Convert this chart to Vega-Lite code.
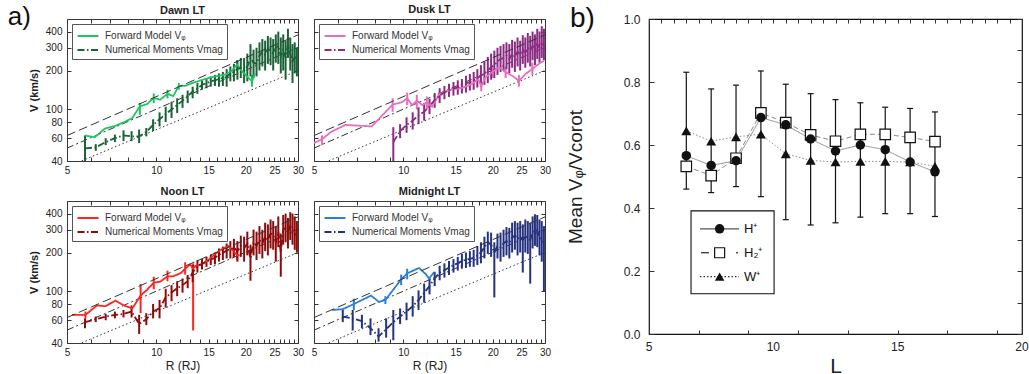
{
 "$schema": "https://vega.github.io/schema/vega-lite/v6.json",
 "padding": {"left": 7, "top": 3, "right": 0, "bottom": 0},
 "background": "white",
 "config": {
  "font": "Liberation Sans",
  "view": {"stroke": "#3a3a3a", "strokeWidth": 1},
  "axis": {"domain": false, "grid": false, "labelOverlap": false, "tickColor": "#333", "tickWidth": 1, "labelColor": "#222", "titleColor": "#222", "labelFont": "Liberation Sans", "titleFont": "Liberation Sans"},
  "legend": {"labelFont": "Liberation Sans"},
  "title": {"font": "Liberation Sans"},
  "text": {"font": "Liberation Sans"}
 },
 "datasets": {
  "ref": [
   {"k":"c10","R":5,"V":62.9},{"k":"c10","R":30,"V":377},
   {"k":"c08","R":5,"V":50.3},{"k":"c08","R":30,"V":302},
   {"k":"c06","R":5,"V":36},{"k":"c06","R":30,"V":200}
  ],
  "dawn": [
   {"s":"F","R":5.75,"V":63},{"s":"F","R":6.2,"V":61},{"s":"F","R":6.7,"V":71},{"s":"F","R":7.3,"V":75},{"s":"F","R":7.8,"V":80},{"s":"F","R":8.3,"V":86},
   {"s":"F","R":8.8,"V":106,"lo":91,"hi":112},{"s":"F","R":9.3,"V":110},{"s":"F","R":9.8,"V":123,"lo":112,"hi":133},{"s":"F","R":10.3,"V":119},
   {"s":"F","R":10.9,"V":132,"lo":122,"hi":142},{"s":"F","R":11.4,"V":127},{"s":"F","R":11.9,"V":152,"lo":142,"hi":160},{"s":"F","R":12.5,"V":152},
   {"s":"F","R":13.2,"V":160},{"s":"F","R":13.9,"V":166},{"s":"F","R":14.6,"V":172},{"s":"F","R":15.4,"V":178},{"s":"F","R":16.2,"V":182},
   {"s":"F","R":17.1,"V":186},{"s":"F","R":18.0,"V":200},{"s":"F","R":18.7,"V":222,"lo":200,"hi":240},{"s":"F","R":19.5,"V":196},{"s":"F","R":20.3,"V":178},
   {"s":"F","R":21.0,"V":165,"lo":150,"hi":185},{"s":"F","R":21.5,"V":190},
   {"s":"N","R":5.75,"V":50,"lo":38,"hi":63},{"s":"N","R":6.25,"V":51,"lo":48,"hi":54},{"s":"N","R":6.75,"V":56,"lo":53,"hi":60},{"s":"N","R":7.25,"V":60,"lo":56,"hi":64},
   {"s":"N","R":7.75,"V":63,"lo":57,"hi":69},{"s":"N","R":8.25,"V":62,"lo":57,"hi":68},{"s":"N","R":8.75,"V":62,"lo":55,"hi":70},{"s":"N","R":9.25,"V":67,"lo":62,"hi":72},
   {"s":"N","R":9.75,"V":76,"lo":68,"hi":84},{"s":"N","R":10.25,"V":84,"lo":74,"hi":95},{"s":"N","R":10.75,"V":92,"lo":80,"hi":105},{"s":"N","R":11.25,"V":100,"lo":86,"hi":115},
   {"s":"N","R":11.75,"V":108,"lo":94,"hi":122},{"s":"N","R":12.25,"V":117,"lo":103,"hi":130},{"s":"N","R":12.75,"V":126,"lo":112,"hi":140},{"s":"N","R":13.25,"V":138,"lo":122,"hi":150},
   {"s":"N","R":13.75,"V":145,"lo":132,"hi":160},{"s":"N","R":14.25,"V":155,"lo":142,"hi":168},{"s":"N","R":14.75,"V":160,"lo":146,"hi":175},{"s":"N","R":15.25,"V":165,"lo":150,"hi":180},
   {"s":"N","R":15.75,"V":168,"lo":152,"hi":185},{"s":"N","R":16.25,"V":172,"lo":150,"hi":190},{"s":"N","R":16.75,"V":175,"lo":152,"hi":195},{"s":"N","R":17.25,"V":178,"lo":150,"hi":205},
   {"s":"N","R":17.75,"V":190,"lo":165,"hi":215},{"s":"N","R":18.25,"V":195,"lo":165,"hi":225},{"s":"N","R":18.75,"V":205,"lo":170,"hi":240},{"s":"N","R":19.25,"V":210,"lo":175,"hi":250},
   {"s":"N","R":19.75,"V":200,"lo":160,"hi":250},{"s":"N","R":20.25,"V":215,"lo":165,"hi":270},{"s":"N","R":20.75,"V":250,"lo":180,"hi":320},{"s":"N","R":21.25,"V":230,"lo":175,"hi":290},
   {"s":"N","R":21.75,"V":225,"lo":180,"hi":300},{"s":"N","R":22.25,"V":260,"lo":200,"hi":330},{"s":"N","R":22.75,"V":280,"lo":215,"hi":350},{"s":"N","R":23.25,"V":265,"lo":200,"hi":340},
   {"s":"N","R":23.75,"V":295,"lo":225,"hi":370},{"s":"N","R":24.25,"V":285,"lo":220,"hi":360},{"s":"N","R":24.75,"V":270,"lo":200,"hi":350},{"s":"N","R":25.25,"V":300,"lo":230,"hi":380},
   {"s":"N","R":25.75,"V":310,"lo":225,"hi":400},{"s":"N","R":26.25,"V":260,"lo":190,"hi":360},{"s":"N","R":26.75,"V":290,"lo":200,"hi":380},{"s":"N","R":27.25,"V":250,"lo":170,"hi":340},
   {"s":"N","R":27.75,"V":320,"lo":250,"hi":420},{"s":"N","R":28.25,"V":270,"lo":200,"hi":360},{"s":"N","R":28.75,"V":230,"lo":160,"hi":320},{"s":"N","R":29.25,"V":255,"lo":190,"hi":330},
   {"s":"N","R":29.75,"V":245,"lo":180,"hi":300}
  ],
  "dusk": [
   {"s":"F","R":5.0,"V":55},{"s":"F","R":5.32,"V":59,"lo":53,"hi":63},{"s":"F","R":5.7,"V":67},{"s":"F","R":6.38,"V":76},{"s":"F","R":7.82,"V":74},
   {"s":"F","R":9.2,"V":109,"lo":96,"hi":122},{"s":"F","R":9.9,"V":114},{"s":"F","R":10.3,"V":122,"lo":108,"hi":135},{"s":"F","R":10.7,"V":108},
   {"s":"F","R":11.1,"V":117,"lo":100,"hi":130},{"s":"F","R":11.6,"V":108},{"s":"F","R":12.0,"V":114,"lo":100,"hi":126},{"s":"F","R":12.5,"V":105},
   {"s":"F","R":13.2,"V":131},{"s":"F","R":14.6,"V":143},{"s":"F","R":15.8,"V":147},{"s":"F","R":17.0,"V":157},{"s":"F","R":17.9,"V":171},
   {"s":"F","R":18.3,"V":151,"lo":138,"hi":165},{"s":"F","R":18.9,"V":177},{"s":"F","R":19.9,"V":194,"lo":175,"hi":210},{"s":"F","R":21.0,"V":212},
   {"s":"F","R":22.1,"V":194,"lo":175,"hi":215},{"s":"F","R":23.3,"V":182},{"s":"F","R":24.5,"V":166,"lo":150,"hi":185},{"s":"F","R":25.8,"V":188},
   {"s":"F","R":27.2,"V":206,"lo":185,"hi":230},{"s":"F","R":28.6,"V":225},{"s":"F","R":29.8,"V":239},
   {"s":"N","R":9.25,"V":56,"lo":38,"hi":73},{"s":"N","R":9.75,"V":68,"lo":60,"hi":77},{"s":"N","R":10.25,"V":76,"lo":66,"hi":87},{"s":"N","R":10.75,"V":82,"lo":70,"hi":95},
   {"s":"N","R":11.25,"V":90,"lo":77,"hi":104},{"s":"N","R":11.75,"V":96,"lo":82,"hi":112},{"s":"N","R":12.25,"V":106,"lo":92,"hi":121},{"s":"N","R":12.75,"V":118,"lo":103,"hi":134},
   {"s":"N","R":13.25,"V":128,"lo":112,"hi":146},{"s":"N","R":13.75,"V":136,"lo":120,"hi":152},{"s":"N","R":14.25,"V":140,"lo":125,"hi":158},{"s":"N","R":14.75,"V":145,"lo":128,"hi":163},
   {"s":"N","R":15.25,"V":148,"lo":130,"hi":168},{"s":"N","R":15.75,"V":152,"lo":133,"hi":172},{"s":"N","R":16.25,"V":158,"lo":135,"hi":182},{"s":"N","R":16.75,"V":163,"lo":140,"hi":188},
   {"s":"N","R":17.25,"V":167,"lo":142,"hi":195},{"s":"N","R":17.75,"V":175,"lo":148,"hi":205},{"s":"N","R":18.25,"V":182,"lo":150,"hi":220},{"s":"N","R":18.75,"V":190,"lo":155,"hi":235},
   {"s":"N","R":19.25,"V":200,"lo":160,"hi":255},{"s":"N","R":19.75,"V":212,"lo":170,"hi":270},{"s":"N","R":20.25,"V":220,"lo":175,"hi":285},{"s":"N","R":20.75,"V":235,"lo":185,"hi":300},
   {"s":"N","R":21.25,"V":245,"lo":195,"hi":310},{"s":"N","R":21.75,"V":250,"lo":200,"hi":320},{"s":"N","R":22.25,"V":260,"lo":205,"hi":330},{"s":"N","R":22.75,"V":245,"lo":190,"hi":320},
   {"s":"N","R":23.25,"V":270,"lo":210,"hi":345},{"s":"N","R":23.75,"V":255,"lo":195,"hi":335},{"s":"N","R":24.25,"V":280,"lo":215,"hi":360},{"s":"N","R":24.75,"V":265,"lo":200,"hi":340},
   {"s":"N","R":25.25,"V":290,"lo":225,"hi":375},{"s":"N","R":25.75,"V":275,"lo":210,"hi":360},{"s":"N","R":26.25,"V":300,"lo":230,"hi":390},{"s":"N","R":26.75,"V":285,"lo":215,"hi":370},
   {"s":"N","R":27.25,"V":310,"lo":240,"hi":400},{"s":"N","R":27.75,"V":290,"lo":220,"hi":380},{"s":"N","R":28.25,"V":320,"lo":245,"hi":420},{"s":"N","R":28.75,"V":300,"lo":230,"hi":400},
   {"s":"N","R":29.25,"V":330,"lo":250,"hi":440},{"s":"N","R":29.75,"V":310,"lo":240,"hi":420}
  ],
  "noon": [
   {"s":"F","R":5.2,"V":66},{"s":"F","R":5.77,"V":66,"lo":62,"hi":70},{"s":"F","R":6.31,"V":78},{"s":"F","R":6.74,"V":77},{"s":"F","R":7.28,"V":85},{"s":"F","R":7.77,"V":78},
   {"s":"F","R":8.3,"V":74},{"s":"F","R":8.85,"V":93,"lo":68,"hi":114},{"s":"F","R":9.3,"V":103},{"s":"F","R":9.8,"V":117,"lo":104,"hi":130},{"s":"F","R":10.3,"V":119},
   {"s":"F","R":10.9,"V":131,"lo":120,"hi":145},{"s":"F","R":11.4,"V":131},{"s":"F","R":12.1,"V":139},{"s":"F","R":12.5,"V":150,"lo":135,"hi":168},{"s":"F","R":13.0,"V":162},
   {"s":"F","R":13.3,"V":150,"lo":50,"hi":165},{"s":"F","R":13.5,"V":157},{"s":"F","R":14.2,"V":162},{"s":"F","R":15.0,"V":176},{"s":"F","R":15.8,"V":195},
   {"s":"F","R":16.6,"V":212},{"s":"F","R":17.5,"V":225},{"s":"F","R":18.2,"V":205,"lo":185,"hi":220},{"s":"F","R":18.7,"V":190,"lo":175,"hi":210},{"s":"F","R":19.1,"V":190},
   {"s":"N","R":5.75,"V":58,"lo":52,"hi":62},{"s":"N","R":6.25,"V":61,"lo":58,"hi":64},{"s":"N","R":6.75,"V":64,"lo":60,"hi":67},{"s":"N","R":7.25,"V":66,"lo":62,"hi":70},
   {"s":"N","R":7.75,"V":67,"lo":63,"hi":72},{"s":"N","R":8.25,"V":70,"lo":63,"hi":78},{"s":"N","R":8.75,"V":56,"lo":47,"hi":66},{"s":"N","R":9.25,"V":61,"lo":55,"hi":68},
   {"s":"N","R":9.75,"V":70,"lo":62,"hi":80},{"s":"N","R":10.25,"V":74,"lo":62,"hi":86},{"s":"N","R":10.75,"V":90,"lo":75,"hi":105},{"s":"N","R":11.25,"V":98,"lo":84,"hi":112},
   {"s":"N","R":11.75,"V":106,"lo":92,"hi":120},{"s":"N","R":12.25,"V":112,"lo":98,"hi":126},{"s":"N","R":12.75,"V":120,"lo":106,"hi":134},{"s":"N","R":13.25,"V":140,"lo":118,"hi":160},
   {"s":"N","R":13.75,"V":158,"lo":140,"hi":175},{"s":"N","R":14.25,"V":163,"lo":148,"hi":178},{"s":"N","R":14.75,"V":170,"lo":155,"hi":186},{"s":"N","R":15.25,"V":176,"lo":160,"hi":192},
   {"s":"N","R":15.75,"V":182,"lo":162,"hi":200},{"s":"N","R":16.25,"V":192,"lo":170,"hi":215},{"s":"N","R":16.75,"V":198,"lo":175,"hi":222},{"s":"N","R":17.25,"V":208,"lo":180,"hi":235},
   {"s":"N","R":17.75,"V":212,"lo":180,"hi":245},{"s":"N","R":18.25,"V":218,"lo":185,"hi":255},{"s":"N","R":18.75,"V":205,"lo":170,"hi":245},{"s":"N","R":19.25,"V":225,"lo":185,"hi":270},
   {"s":"N","R":19.75,"V":215,"lo":170,"hi":265},{"s":"N","R":20.25,"V":235,"lo":190,"hi":290},{"s":"N","R":20.75,"V":180,"lo":121,"hi":230},{"s":"N","R":21.25,"V":240,"lo":190,"hi":300},
   {"s":"N","R":21.75,"V":225,"lo":175,"hi":290},{"s":"N","R":22.25,"V":250,"lo":195,"hi":320},{"s":"N","R":22.75,"V":235,"lo":180,"hi":300},{"s":"N","R":23.25,"V":265,"lo":205,"hi":340},
   {"s":"N","R":23.75,"V":250,"lo":190,"hi":330},{"s":"N","R":24.25,"V":280,"lo":215,"hi":360},{"s":"N","R":24.75,"V":275,"lo":210,"hi":350},{"s":"N","R":25.25,"V":240,"lo":170,"hi":320},
   {"s":"N","R":25.75,"V":290,"lo":220,"hi":380},{"s":"N","R":26.25,"V":200,"lo":130,"hi":280},{"s":"N","R":26.75,"V":300,"lo":230,"hi":390},{"s":"N","R":27.25,"V":310,"lo":240,"hi":400},
   {"s":"N","R":27.75,"V":285,"lo":215,"hi":370},{"s":"N","R":28.25,"V":320,"lo":250,"hi":410},{"s":"N","R":28.75,"V":300,"lo":230,"hi":400},{"s":"N","R":29.25,"V":280,"lo":210,"hi":380},
   {"s":"N","R":29.75,"V":270,"lo":200,"hi":350}
  ],
  "midnight": [
   {"s":"F","R":5.75,"V":72},{"s":"F","R":6.25,"V":73},{"s":"F","R":6.81,"V":80,"lo":72,"hi":88},{"s":"F","R":7.78,"V":93},{"s":"F","R":8.28,"V":83},
   {"s":"F","R":8.7,"V":86,"lo":80,"hi":92},{"s":"F","R":9.83,"V":124,"lo":112,"hi":135},{"s":"F","R":10.3,"V":138,"lo":124,"hi":150},{"s":"F","R":11.3,"V":152},
   {"s":"F","R":11.9,"V":136},{"s":"F","R":12.2,"V":126},{"s":"F","R":12.7,"V":141},
   {"s":"N","R":6.25,"V":64,"lo":58,"hi":72},{"s":"N","R":6.75,"V":62,"lo":50,"hi":72},{"s":"N","R":7.25,"V":59,"lo":52,"hi":66},{"s":"N","R":7.75,"V":52,"lo":46,"hi":62},
   {"s":"N","R":8.25,"V":45,"lo":41,"hi":52},{"s":"N","R":8.75,"V":51,"lo":44,"hi":62},{"s":"N","R":9.25,"V":58,"lo":42,"hi":72},{"s":"N","R":9.75,"V":64,"lo":56,"hi":74},
   {"s":"N","R":10.25,"V":70,"lo":60,"hi":82},{"s":"N","R":10.75,"V":77,"lo":64,"hi":92},{"s":"N","R":11.25,"V":86,"lo":72,"hi":102},{"s":"N","R":11.75,"V":98,"lo":82,"hi":115},
   {"s":"N","R":12.25,"V":110,"lo":95,"hi":126},{"s":"N","R":12.75,"V":126,"lo":110,"hi":142},{"s":"N","R":13.25,"V":140,"lo":122,"hi":158},{"s":"N","R":13.75,"V":146,"lo":128,"hi":165},
   {"s":"N","R":14.25,"V":153,"lo":134,"hi":172},{"s":"N","R":14.75,"V":160,"lo":140,"hi":178},{"s":"N","R":15.25,"V":165,"lo":145,"hi":185},{"s":"N","R":15.75,"V":172,"lo":150,"hi":195},
   {"s":"N","R":16.25,"V":176,"lo":152,"hi":200},{"s":"N","R":16.75,"V":179,"lo":155,"hi":205},{"s":"N","R":17.25,"V":182,"lo":155,"hi":210},{"s":"N","R":17.75,"V":190,"lo":160,"hi":225},
   {"s":"N","R":18.25,"V":200,"lo":165,"hi":240},{"s":"N","R":18.75,"V":220,"lo":180,"hi":265},{"s":"N","R":19.25,"V":240,"lo":195,"hi":290},{"s":"N","R":19.75,"V":230,"lo":185,"hi":285},
   {"s":"N","R":20.25,"V":200,"lo":90,"hi":240},{"s":"N","R":20.75,"V":225,"lo":180,"hi":280},{"s":"N","R":21.25,"V":220,"lo":170,"hi":285},{"s":"N","R":21.75,"V":235,"lo":185,"hi":300},
   {"s":"N","R":22.25,"V":245,"lo":190,"hi":315},{"s":"N","R":22.75,"V":238,"lo":180,"hi":310},{"s":"N","R":23.25,"V":260,"lo":200,"hi":340},{"s":"N","R":23.75,"V":272,"lo":210,"hi":350},
   {"s":"N","R":24.25,"V":255,"lo":190,"hi":340},{"s":"N","R":24.75,"V":265,"lo":200,"hi":350},{"s":"N","R":25.25,"V":250,"lo":140,"hi":330},{"s":"N","R":25.75,"V":270,"lo":200,"hi":360},
   {"s":"N","R":26.25,"V":260,"lo":195,"hi":350},{"s":"N","R":26.75,"V":250,"lo":115,"hi":340},{"s":"N","R":27.25,"V":285,"lo":215,"hi":380},{"s":"N","R":27.75,"V":300,"lo":225,"hi":395},
   {"s":"N","R":28.25,"V":295,"lo":220,"hi":390},{"s":"N","R":28.75,"V":260,"lo":190,"hi":360},{"s":"N","R":29.25,"V":250,"lo":170,"hi":350},{"s":"N","R":29.75,"V":240,"lo":100,"hi":320}
  ],
  "bd": [
   {"ion":"H⁺","L":6.5,"v":0.566},{"ion":"H⁺","L":7.5,"v":0.535},{"ion":"H⁺","L":8.5,"v":0.55},{"ion":"H⁺","L":9.5,"v":0.687},{"ion":"H⁺","L":10.5,"v":0.664},
   {"ion":"H⁺","L":11.5,"v":0.619},{"ion":"H⁺","L":12.5,"v":0.581},{"ion":"H⁺","L":13.5,"v":0.6},{"ion":"H⁺","L":14.5,"v":0.585},{"ion":"H⁺","L":15.5,"v":0.546},{"ion":"H⁺","L":16.5,"v":0.515},
   {"ion":"H₂⁺","L":6.5,"v":0.532},{"ion":"H₂⁺","L":7.5,"v":0.503},{"ion":"H₂⁺","L":8.5,"v":0.558},{"ion":"H₂⁺","L":9.5,"v":0.702},{"ion":"H₂⁺","L":10.5,"v":0.671},
   {"ion":"H₂⁺","L":11.5,"v":0.632},{"ion":"H₂⁺","L":12.5,"v":0.612},{"ion":"H₂⁺","L":13.5,"v":0.634},{"ion":"H₂⁺","L":14.5,"v":0.634},{"ion":"H₂⁺","L":15.5,"v":0.624},{"ion":"H₂⁺","L":16.5,"v":0.611},
   {"ion":"W⁺","L":6.5,"v":0.645},{"ion":"W⁺","L":7.5,"v":0.612},{"ion":"W⁺","L":8.5,"v":0.626},{"ion":"W⁺","L":9.5,"v":0.634},{"ion":"W⁺","L":10.5,"v":0.572},
   {"ion":"W⁺","L":11.5,"v":0.551},{"ion":"W⁺","L":12.5,"v":0.546},{"ion":"W⁺","L":13.5,"v":0.548},{"ion":"W⁺","L":14.5,"v":0.548},{"ion":"W⁺","L":15.5,"v":0.546},{"ion":"W⁺","L":16.5,"v":0.532}
  ],
  "be": [
   {"L":6.5,"lo":0.46,"hi":0.831},{"L":7.5,"lo":0.449,"hi":0.778},{"L":8.5,"lo":0.468,"hi":0.79},{"L":9.5,"lo":0.436,"hi":0.835},{"L":10.5,"lo":0.363,"hi":0.793},
   {"L":11.5,"lo":0.346,"hi":0.763},{"L":12.5,"lo":0.353,"hi":0.744},{"L":13.5,"lo":0.371,"hi":0.734},{"L":14.5,"lo":0.382,"hi":0.72},{"L":15.5,"lo":0.382,"hi":0.716},{"L":16.5,"lo":0.373,"hi":0.705}
  ],
  "bticks": [{"L":5},{"L":10},{"L":15},{"L":20}]
 },
 "hconcat": [
  {
   "hconcat": [
    {
     "vconcat": [
      {
       "width": 231, "height": 142,
       "title": {"text": "Dawn LT", "fontSize": 11, "fontWeight": "bold", "offset": -12, "color": "#222"},
       "layer": [
        {"layer": [
         {"data": {"name": "ref"}, "transform": [{"filter": "datum.k == 'c06'"}], "mark": {"type": "line", "clip": true, "color": "#333", "strokeWidth": 1, "strokeDash": [1.5, 2.5]},
          "encoding": {"x": {"field": "R", "type": "quantitative", "scale": {"type": "log", "domain": [5, 30], "nice": false}, "axis": {"values": [5,6,7,8,9,10,11,12,13,14,15,16,17,18,19,20,21,22,23,24,25,26,27,28,29,30], "format": "d", "labelExpr": "datum.value % 5 == 0 ? datum.label : ' '", "labelOverlap": false, "labelFlush": false, "labelFontSize": 10, "tickSize": -4, "labelPadding": 8, "title": null}},
                       "y": {"field": "V", "type": "quantitative", "scale": {"type": "log", "domain": [40, 500], "nice": false}, "axis": {"values": [40,60,80,100,200,300,400], "format": "d", "labelFontSize": 10, "tickSize": -4, "labelPadding": 9, "title": "V (km/s)", "titleFontSize": 11, "titleFontWeight": "bold", "titlePadding": 6}}}},
         {"data": {"name": "ref"}, "transform": [{"filter": "datum.k == 'c08'"}], "mark": {"type": "line", "clip": true, "color": "#333", "strokeWidth": 1, "strokeDash": [7, 3, 2, 3]},
          "encoding": {"x": {"field": "R", "type": "quantitative"}, "y": {"field": "V", "type": "quantitative"}}},
         {"data": {"name": "dawn"}, "transform": [{"filter": "isValid(datum.lo)"}], "mark": {"type": "rule", "clip": true, "strokeWidth": 2},
          "encoding": {"x": {"field": "R", "type": "quantitative"}, "y": {"field": "lo", "type": "quantitative"}, "y2": {"field": "hi"},
                       "color": {"field": "s", "type": "nominal", "scale": {"domain": ["F", "N"], "range": ["#1fc463", "#1b6236"]}}}},
         {"data": {"name": "dawn"}, "mark": {"type": "line", "clip": true, "strokeWidth": 1.8},
          "encoding": {"x": {"field": "R", "type": "quantitative"}, "y": {"field": "V", "type": "quantitative"},
                       "color": {"field": "s", "type": "nominal", "scale": {"domain": ["F", "N"], "range": ["#1fc463", "#1b6236"]}, "legend": {"title": null, "orient": "top-left", "offset": 5, "padding": 4, "strokeColor": "#555", "fillColor": "white", "labelFontSize": 10, "labelColor": "#333", "symbolType": "M-1.5,0H1.5", "symbolSize": 196, "symbolStrokeWidth": 2, "symbolOffset": 4, "labelOffset": 9, "rowPadding": 1, "labelExpr": "datum.label == 'F' ? 'Forward Model Vᵩ' : 'Numerical Moments Vmag'"}},
                       "strokeDash": {"field": "s", "type": "nominal", "scale": {"domain": ["F", "N"], "range": [[1, 0], [7, 2.5, 1.5, 2.5]]}, "legend": {"title": null, "orient": "top-left", "offset": 5, "padding": 4, "strokeColor": "#555", "fillColor": "white", "labelFontSize": 10, "labelColor": "#333", "symbolType": "M-1.5,0H1.5", "symbolSize": 196, "symbolStrokeWidth": 2, "symbolOffset": 4, "labelOffset": 9, "rowPadding": 1, "labelExpr": "datum.label == 'F' ? 'Forward Model Vᵩ' : 'Numerical Moments Vmag'"}}}},
         {"data": {"values": [{}]}, "mark": {"type": "text", "fontSize": 26, "align": "left", "baseline": "middle", "color": "#111"},
          "encoding": {"x": {"datum": 3.16, "type": "quantitative"}, "y": {"datum": 518, "type": "quantitative"}, "text": {"value": "a)"}}}
        ]},
        {"data": {"name": "ref"}, "transform": [{"filter": "datum.k == 'c10'"}], "mark": {"type": "line", "clip": true, "color": "#333", "strokeWidth": 1, "strokeDash": [9, 4]},
         "encoding": {"x": {"field": "R", "type": "quantitative", "axis": {"orient": "top", "values": [5,6,7,8,9,10,11,12,13,14,15,16,17,18,19,20,21,22,23,24,25,26,27,28,29,30], "labels": false, "tickSize": -4, "title": null}},
                      "y": {"field": "V", "type": "quantitative", "axis": {"orient": "right", "values": [40,60,80,100,200,300,400], "labels": false, "tickSize": -4, "title": null}}}}
       ],
       "resolve": {"axis": {"x": "independent", "y": "independent"}}
      },
      {
       "width": 231, "height": 142,
       "title": {"text": "Noon LT", "fontSize": 11, "fontWeight": "bold", "offset": 4, "color": "#222"},
       "layer": [
        {"layer": [
         {"data": {"name": "ref"}, "transform": [{"filter": "datum.k == 'c06'"}], "mark": {"type": "line", "clip": true, "color": "#333", "strokeWidth": 1, "strokeDash": [1.5, 2.5]},
          "encoding": {"x": {"field": "R", "type": "quantitative", "scale": {"type": "log", "domain": [5, 30], "nice": false}, "axis": {"values": [5,6,7,8,9,10,11,12,13,14,15,16,17,18,19,20,21,22,23,24,25,26,27,28,29,30], "format": "d", "labelExpr": "datum.value % 5 == 0 ? datum.label : ' '", "labelOverlap": false, "labelFlush": false, "labelFontSize": 10, "tickSize": -4, "labelPadding": 8, "title": "R (RJ)", "titleFontSize": 12, "titleFontWeight": "normal", "titlePadding": 3}},
                       "y": {"field": "V", "type": "quantitative", "scale": {"type": "log", "domain": [40, 500], "nice": false}, "axis": {"values": [40,60,80,100,200,300,400], "format": "d", "labelFontSize": 10, "tickSize": -4, "labelPadding": 9, "title": "V (km/s)", "titleFontSize": 11, "titleFontWeight": "bold", "titlePadding": 6}}}},
         {"data": {"name": "ref"}, "transform": [{"filter": "datum.k == 'c08'"}], "mark": {"type": "line", "clip": true, "color": "#333", "strokeWidth": 1, "strokeDash": [7, 3, 2, 3]},
          "encoding": {"x": {"field": "R", "type": "quantitative"}, "y": {"field": "V", "type": "quantitative"}}},
         {"data": {"name": "noon"}, "transform": [{"filter": "isValid(datum.lo)"}], "mark": {"type": "rule", "clip": true, "strokeWidth": 2},
          "encoding": {"x": {"field": "R", "type": "quantitative"}, "y": {"field": "lo", "type": "quantitative"}, "y2": {"field": "hi"},
                       "color": {"field": "s", "type": "nominal", "scale": {"domain": ["F", "N"], "range": ["#ff2424", "#8c0b0b"]}}}},
         {"data": {"name": "noon"}, "mark": {"type": "line", "clip": true, "strokeWidth": 1.8},
          "encoding": {"x": {"field": "R", "type": "quantitative"}, "y": {"field": "V", "type": "quantitative"},
                       "color": {"field": "s", "type": "nominal", "scale": {"domain": ["F", "N"], "range": ["#ff2424", "#8c0b0b"]}, "legend": {"title": null, "orient": "top-left", "offset": 5, "padding": 4, "strokeColor": "#555", "fillColor": "white", "labelFontSize": 10, "labelColor": "#333", "symbolType": "M-1.5,0H1.5", "symbolSize": 196, "symbolStrokeWidth": 2, "symbolOffset": 4, "labelOffset": 9, "rowPadding": 1, "labelExpr": "datum.label == 'F' ? 'Forward Model Vᵩ' : 'Numerical Moments Vmag'"}},
                       "strokeDash": {"field": "s", "type": "nominal", "scale": {"domain": ["F", "N"], "range": [[1, 0], [7, 2.5, 1.5, 2.5]]}, "legend": {"title": null, "orient": "top-left", "offset": 5, "padding": 4, "strokeColor": "#555", "fillColor": "white", "labelFontSize": 10, "labelColor": "#333", "symbolType": "M-1.5,0H1.5", "symbolSize": 196, "symbolStrokeWidth": 2, "symbolOffset": 4, "labelOffset": 9, "rowPadding": 1, "labelExpr": "datum.label == 'F' ? 'Forward Model Vᵩ' : 'Numerical Moments Vmag'"}}}}
        ]},
        {"data": {"name": "ref"}, "transform": [{"filter": "datum.k == 'c10'"}], "mark": {"type": "line", "clip": true, "color": "#333", "strokeWidth": 1, "strokeDash": [9, 4]},
         "encoding": {"x": {"field": "R", "type": "quantitative", "axis": {"orient": "top", "values": [5,6,7,8,9,10,11,12,13,14,15,16,17,18,19,20,21,22,23,24,25,26,27,28,29,30], "labels": false, "tickSize": -4, "title": null}},
                      "y": {"field": "V", "type": "quantitative", "axis": {"orient": "right", "values": [40,60,80,100,200,300,400], "labels": false, "tickSize": -4, "title": null}}}}
       ],
       "resolve": {"axis": {"x": "independent", "y": "independent"}}
      }
     ],
     "spacing": 40, "bounds": "flush",
     "resolve": {"scale": {"color": "independent", "strokeDash": "independent"}, "legend": {"color": "independent", "strokeDash": "independent"}}
    },
    {
     "vconcat": [
      {
       "width": 231, "height": 142,
       "title": {"text": "Dusk LT", "fontSize": 11, "fontWeight": "bold", "offset": 4, "color": "#222"},
       "layer": [
        {"layer": [
         {"data": {"name": "ref"}, "transform": [{"filter": "datum.k == 'c06'"}], "mark": {"type": "line", "clip": true, "color": "#333", "strokeWidth": 1, "strokeDash": [1.5, 2.5]},
          "encoding": {"x": {"field": "R", "type": "quantitative", "scale": {"type": "log", "domain": [5, 30], "nice": false}, "axis": {"values": [5,6,7,8,9,10,11,12,13,14,15,16,17,18,19,20,21,22,23,24,25,26,27,28,29,30], "format": "d", "labelExpr": "datum.value % 5 == 0 ? datum.label : ' '", "labelOverlap": false, "labelFlush": false, "labelFontSize": 10, "tickSize": -4, "labelPadding": 8, "title": null}},
                       "y": {"field": "V", "type": "quantitative", "scale": {"type": "log", "domain": [40, 500], "nice": false}, "axis": {"values": [40,60,80,100,200,300,400], "labels": false, "tickSize": -4, "title": null}}}},
         {"data": {"name": "ref"}, "transform": [{"filter": "datum.k == 'c08'"}], "mark": {"type": "line", "clip": true, "color": "#333", "strokeWidth": 1, "strokeDash": [7, 3, 2, 3]},
          "encoding": {"x": {"field": "R", "type": "quantitative"}, "y": {"field": "V", "type": "quantitative"}}},
         {"data": {"name": "dusk"}, "transform": [{"filter": "isValid(datum.lo)"}], "mark": {"type": "rule", "clip": true, "strokeWidth": 2},
          "encoding": {"x": {"field": "R", "type": "quantitative"}, "y": {"field": "lo", "type": "quantitative"}, "y2": {"field": "hi"},
                       "color": {"field": "s", "type": "nominal", "scale": {"domain": ["F", "N"], "range": ["#ea6cbd", "#8b2b83"]}}}},
         {"data": {"name": "dusk"}, "mark": {"type": "line", "clip": true, "strokeWidth": 1.8},
          "encoding": {"x": {"field": "R", "type": "quantitative"}, "y": {"field": "V", "type": "quantitative"},
                       "color": {"field": "s", "type": "nominal", "scale": {"domain": ["F", "N"], "range": ["#ea6cbd", "#8b2b83"]}, "legend": {"title": null, "orient": "top-left", "offset": 5, "padding": 4, "strokeColor": "#555", "fillColor": "white", "labelFontSize": 10, "labelColor": "#333", "symbolType": "M-1.5,0H1.5", "symbolSize": 196, "symbolStrokeWidth": 2, "symbolOffset": 4, "labelOffset": 9, "rowPadding": 1, "labelExpr": "datum.label == 'F' ? 'Forward Model Vᵩ' : 'Numerical Moments Vmag'"}},
                       "strokeDash": {"field": "s", "type": "nominal", "scale": {"domain": ["F", "N"], "range": [[1, 0], [7, 2.5, 1.5, 2.5]]}, "legend": {"title": null, "orient": "top-left", "offset": 5, "padding": 4, "strokeColor": "#555", "fillColor": "white", "labelFontSize": 10, "labelColor": "#333", "symbolType": "M-1.5,0H1.5", "symbolSize": 196, "symbolStrokeWidth": 2, "symbolOffset": 4, "labelOffset": 9, "rowPadding": 1, "labelExpr": "datum.label == 'F' ? 'Forward Model Vᵩ' : 'Numerical Moments Vmag'"}}}}
        ]},
        {"data": {"name": "ref"}, "transform": [{"filter": "datum.k == 'c10'"}], "mark": {"type": "line", "clip": true, "color": "#333", "strokeWidth": 1, "strokeDash": [9, 4]},
         "encoding": {"x": {"field": "R", "type": "quantitative", "axis": {"orient": "top", "values": [5,6,7,8,9,10,11,12,13,14,15,16,17,18,19,20,21,22,23,24,25,26,27,28,29,30], "labels": false, "tickSize": -4, "title": null}},
                      "y": {"field": "V", "type": "quantitative", "axis": {"orient": "right", "values": [40,60,80,100,200,300,400], "labels": false, "tickSize": -4, "title": null}}}}
       ],
       "resolve": {"axis": {"x": "independent", "y": "independent"}}
      },
      {
       "width": 231, "height": 142,
       "title": {"text": "Midnight LT", "fontSize": 11, "fontWeight": "bold", "offset": 4, "color": "#222"},
       "layer": [
        {"layer": [
         {"data": {"name": "ref"}, "transform": [{"filter": "datum.k == 'c06'"}], "mark": {"type": "line", "clip": true, "color": "#333", "strokeWidth": 1, "strokeDash": [1.5, 2.5]},
          "encoding": {"x": {"field": "R", "type": "quantitative", "scale": {"type": "log", "domain": [5, 30], "nice": false}, "axis": {"values": [5,6,7,8,9,10,11,12,13,14,15,16,17,18,19,20,21,22,23,24,25,26,27,28,29,30], "format": "d", "labelExpr": "datum.value % 5 == 0 ? datum.label : ' '", "labelOverlap": false, "labelFlush": false, "labelFontSize": 10, "tickSize": -4, "labelPadding": 8, "title": "R (RJ)", "titleFontSize": 12, "titleFontWeight": "normal", "titlePadding": 3}},
                       "y": {"field": "V", "type": "quantitative", "scale": {"type": "log", "domain": [40, 500], "nice": false}, "axis": {"values": [40,60,80,100,200,300,400], "labels": false, "tickSize": -4, "title": null}}}},
         {"data": {"name": "ref"}, "transform": [{"filter": "datum.k == 'c08'"}], "mark": {"type": "line", "clip": true, "color": "#333", "strokeWidth": 1, "strokeDash": [7, 3, 2, 3]},
          "encoding": {"x": {"field": "R", "type": "quantitative"}, "y": {"field": "V", "type": "quantitative"}}},
         {"data": {"name": "midnight"}, "transform": [{"filter": "isValid(datum.lo)"}], "mark": {"type": "rule", "clip": true, "strokeWidth": 2},
          "encoding": {"x": {"field": "R", "type": "quantitative"}, "y": {"field": "lo", "type": "quantitative"}, "y2": {"field": "hi"},
                       "color": {"field": "s", "type": "nominal", "scale": {"domain": ["F", "N"], "range": ["#2a80d2", "#25327f"]}}}},
         {"data": {"name": "midnight"}, "mark": {"type": "line", "clip": true, "strokeWidth": 1.8},
          "encoding": {"x": {"field": "R", "type": "quantitative"}, "y": {"field": "V", "type": "quantitative"},
                       "color": {"field": "s", "type": "nominal", "scale": {"domain": ["F", "N"], "range": ["#2a80d2", "#25327f"]}, "legend": {"title": null, "orient": "top-left", "offset": 5, "padding": 4, "strokeColor": "#555", "fillColor": "white", "labelFontSize": 10, "labelColor": "#333", "symbolType": "M-1.5,0H1.5", "symbolSize": 196, "symbolStrokeWidth": 2, "symbolOffset": 4, "labelOffset": 9, "rowPadding": 1, "labelExpr": "datum.label == 'F' ? 'Forward Model Vᵩ' : 'Numerical Moments Vmag'"}},
                       "strokeDash": {"field": "s", "type": "nominal", "scale": {"domain": ["F", "N"], "range": [[1, 0], [7, 2.5, 1.5, 2.5]]}, "legend": {"title": null, "orient": "top-left", "offset": 5, "padding": 4, "strokeColor": "#555", "fillColor": "white", "labelFontSize": 10, "labelColor": "#333", "symbolType": "M-1.5,0H1.5", "symbolSize": 196, "symbolStrokeWidth": 2, "symbolOffset": 4, "labelOffset": 9, "rowPadding": 1, "labelExpr": "datum.label == 'F' ? 'Forward Model Vᵩ' : 'Numerical Moments Vmag'"}}}}
        ]},
        {"data": {"name": "ref"}, "transform": [{"filter": "datum.k == 'c10'"}], "mark": {"type": "line", "clip": true, "color": "#333", "strokeWidth": 1, "strokeDash": [9, 4]},
         "encoding": {"x": {"field": "R", "type": "quantitative", "axis": {"orient": "top", "values": [5,6,7,8,9,10,11,12,13,14,15,16,17,18,19,20,21,22,23,24,25,26,27,28,29,30], "labels": false, "tickSize": -4, "title": null}},
                      "y": {"field": "V", "type": "quantitative", "axis": {"orient": "right", "values": [40,60,80,100,200,300,400], "labels": false, "tickSize": -4, "title": null}}}}
       ],
       "resolve": {"axis": {"x": "independent", "y": "independent"}}
      }
     ],
     "spacing": 40, "bounds": "flush",
     "resolve": {"scale": {"color": "independent", "strokeDash": "independent"}, "legend": {"color": "independent", "strokeDash": "independent"}}
    }
   ],
   "spacing": 5,
   "resolve": {"scale": {"color": "independent", "strokeDash": "independent"}, "legend": {"color": "independent", "strokeDash": "independent"}}
  },
  {
   "width": 373, "height": 315,
   "view": {"stroke": "#111", "strokeWidth": 1.2},
   "layer": [
    {"layer": [
     {"data": {"name": "bd"}, "mark": {"type": "line", "color": "#8c8c8c", "strokeWidth": 1},
      "encoding": {"x": {"field": "L", "type": "quantitative", "scale": {"domain": [5, 20], "nice": false, "zero": false}, "axis": {"values": [5,5.5,6,6.5,7,7.5,8,8.5,9,9.5,10,10.5,11,11.5,12,12.5,13,13.5,14,14.5,15,15.5,16,16.5,17,17.5,18,18.5,19,19.5,20], "labels": false, "tickSize": -4, "title": "L", "titleFontSize": 21, "titleFontWeight": "normal", "titlePadding": 21}},
                   "y": {"field": "v", "type": "quantitative", "scale": {"domain": [0, 1], "nice": false}, "axis": {"values": [0,0.1,0.2,0.3,0.4,0.5,0.6,0.7,0.8,0.9,1], "labelExpr": "round(datum.value*10) % 2 == 0 ? format(datum.value, '.1f') : ' '", "labelOverlap": false, "labelFlush": false, "labelFontSize": 12, "tickSize": -5, "labelPadding": 14, "title": "Mean Vᵩ/Vcorot", "titleFontSize": 19, "titleFontWeight": "normal", "titlePadding": 38}},
                   "strokeDash": {"field": "ion", "type": "nominal", "scale": {"domain": ["H⁺", "H₂⁺", "W⁺"], "range": [[1, 0], [5, 3], [1.5, 2]]}, "legend": null}}},
     {"data": {"name": "bticks"}, "mark": {"type": "text", "fontSize": 12, "align": "center", "baseline": "middle", "color": "#222"},
      "encoding": {"x": {"field": "L", "type": "quantitative"}, "y": {"datum": -0.042, "type": "quantitative"}, "text": {"field": "L", "type": "quantitative", "format": "d"}}},
     {"data": {"name": "be"}, "mark": {"type": "rule", "color": "#111", "strokeWidth": 1.2},
      "encoding": {"x": {"field": "L", "type": "quantitative"}, "y": {"field": "lo", "type": "quantitative"}, "y2": {"field": "hi"}}},
     {"data": {"name": "be"}, "mark": {"type": "tick", "orient": "horizontal", "size": 6, "thickness": 1.2, "color": "#111", "opacity": 1},
      "encoding": {"x": {"field": "L", "type": "quantitative"}, "y": {"field": "lo", "type": "quantitative"}}},
     {"data": {"name": "be"}, "mark": {"type": "tick", "orient": "horizontal", "size": 6, "thickness": 1.2, "color": "#111", "opacity": 1},
      "encoding": {"x": {"field": "L", "type": "quantitative"}, "y": {"field": "hi", "type": "quantitative"}}},
     {"data": {"name": "bd"}, "transform": [{"filter": "datum.ion == 'H₂⁺'"}], "mark": {"type": "point", "shape": "square", "filled": true, "fill": "white", "stroke": "#111", "strokeWidth": 1.2, "size": 110, "opacity": 1},
      "encoding": {"x": {"field": "L", "type": "quantitative"}, "y": {"field": "v", "type": "quantitative"}}},
     {"data": {"name": "bd"}, "transform": [{"filter": "datum.ion == 'H⁺'"}], "mark": {"type": "point", "shape": "circle", "filled": true, "color": "#111", "size": 90, "opacity": 1},
      "encoding": {"x": {"field": "L", "type": "quantitative"}, "y": {"field": "v", "type": "quantitative"}}},
     {"data": {"values": [{}]}, "mark": {"type": "rect", "fill": "white", "stroke": "#111", "strokeWidth": 1.1},
      "encoding": {"x": {"datum": 6.69, "type": "quantitative"}, "x2": {"datum": 10.03}, "y": {"datum": 0.391, "type": "quantitative"}, "y2": {"datum": 0.128}}},
     {"data": {"values": [{}]}, "mark": {"type": "rule", "color": "#555", "strokeWidth": 1.3},
      "encoding": {"x": {"datum": 7.05, "type": "quantitative"}, "x2": {"datum": 8.62}, "y": {"datum": 0.334, "type": "quantitative"}}},
     {"data": {"values": [{}]}, "mark": {"type": "rule", "color": "#333", "strokeWidth": 1.3},
      "encoding": {"x": {"datum": 7.09, "type": "quantitative"}, "x2": {"datum": 7.41}, "y": {"datum": 0.258, "type": "quantitative"}}},
     {"data": {"values": [{}]}, "mark": {"type": "rule", "color": "#333", "strokeWidth": 1.3},
      "encoding": {"x": {"datum": 8.5, "type": "quantitative"}, "x2": {"datum": 8.58}, "y": {"datum": 0.258, "type": "quantitative"}}},
     {"data": {"values": [{}]}, "mark": {"type": "rule", "color": "#333", "strokeWidth": 1.3, "strokeDash": [1.5, 2]},
      "encoding": {"x": {"datum": 7.05, "type": "quantitative"}, "x2": {"datum": 8.62}, "y": {"datum": 0.182, "type": "quantitative"}}},
     {"data": {"values": [{}]}, "mark": {"type": "point", "shape": "circle", "filled": true, "color": "#111", "size": 90, "opacity": 1},
      "encoding": {"x": {"datum": 7.84, "type": "quantitative"}, "y": {"datum": 0.334, "type": "quantitative"}}},
     {"data": {"values": [{}]}, "mark": {"type": "point", "shape": "square", "filled": true, "fill": "white", "stroke": "#111", "strokeWidth": 1.2, "size": 100, "opacity": 1},
      "encoding": {"x": {"datum": 7.84, "type": "quantitative"}, "y": {"datum": 0.258, "type": "quantitative"}}},
     {"data": {"values": [{}]}, "mark": {"type": "point", "shape": "triangle-up", "filled": true, "color": "#111", "size": 90, "opacity": 1},
      "encoding": {"x": {"datum": 7.84, "type": "quantitative"}, "y": {"datum": 0.182, "type": "quantitative"}}},
     {"data": {"values": [{}]}, "mark": {"type": "text", "fontSize": 13, "align": "left", "baseline": "middle", "color": "#111"},
      "encoding": {"x": {"datum": 8.82, "type": "quantitative"}, "y": {"datum": 0.334, "type": "quantitative"}, "text": {"value": "H⁺"}}},
     {"data": {"values": [{}]}, "mark": {"type": "text", "fontSize": 13, "align": "left", "baseline": "middle", "color": "#111"},
      "encoding": {"x": {"datum": 8.82, "type": "quantitative"}, "y": {"datum": 0.258, "type": "quantitative"}, "text": {"value": "H₂⁺"}}},
     {"data": {"values": [{}]}, "mark": {"type": "text", "fontSize": 13, "align": "left", "baseline": "middle", "color": "#111"},
      "encoding": {"x": {"datum": 8.82, "type": "quantitative"}, "y": {"datum": 0.182, "type": "quantitative"}, "text": {"value": "W⁺"}}},
     {"data": {"values": [{}]}, "mark": {"type": "text", "fontSize": 28, "align": "left", "baseline": "middle", "color": "#111"},
      "encoding": {"x": {"datum": 1.82, "type": "quantitative"}, "y": {"datum": 1.0, "type": "quantitative"}, "text": {"value": "b)"}}}
    ]},
    {"data": {"name": "bd"}, "transform": [{"filter": "datum.ion == 'W⁺'"}], "mark": {"type": "point", "shape": "triangle-up", "filled": true, "color": "#111", "size": 100, "opacity": 1},
     "encoding": {"x": {"field": "L", "type": "quantitative", "axis": {"orient": "top", "values": [5,5.5,6,6.5,7,7.5,8,8.5,9,9.5,10,10.5,11,11.5,12,12.5,13,13.5,14,14.5,15,15.5,16,16.5,17,17.5,18,18.5,19,19.5,20], "labels": false, "tickSize": -4, "title": null}},
                  "y": {"field": "v", "type": "quantitative", "axis": {"orient": "right", "values": [0,0.1,0.2,0.3,0.4,0.5,0.6,0.7,0.8,0.9,1], "labels": false, "tickSize": -5, "title": null}}}}
   ],
   "resolve": {"axis": {"x": "independent", "y": "independent"}}
  }
 ],
 "spacing": 13,
 "resolve": {"scale": {"color": "independent", "strokeDash": "independent"}, "legend": {"color": "independent", "strokeDash": "independent"}}
}
